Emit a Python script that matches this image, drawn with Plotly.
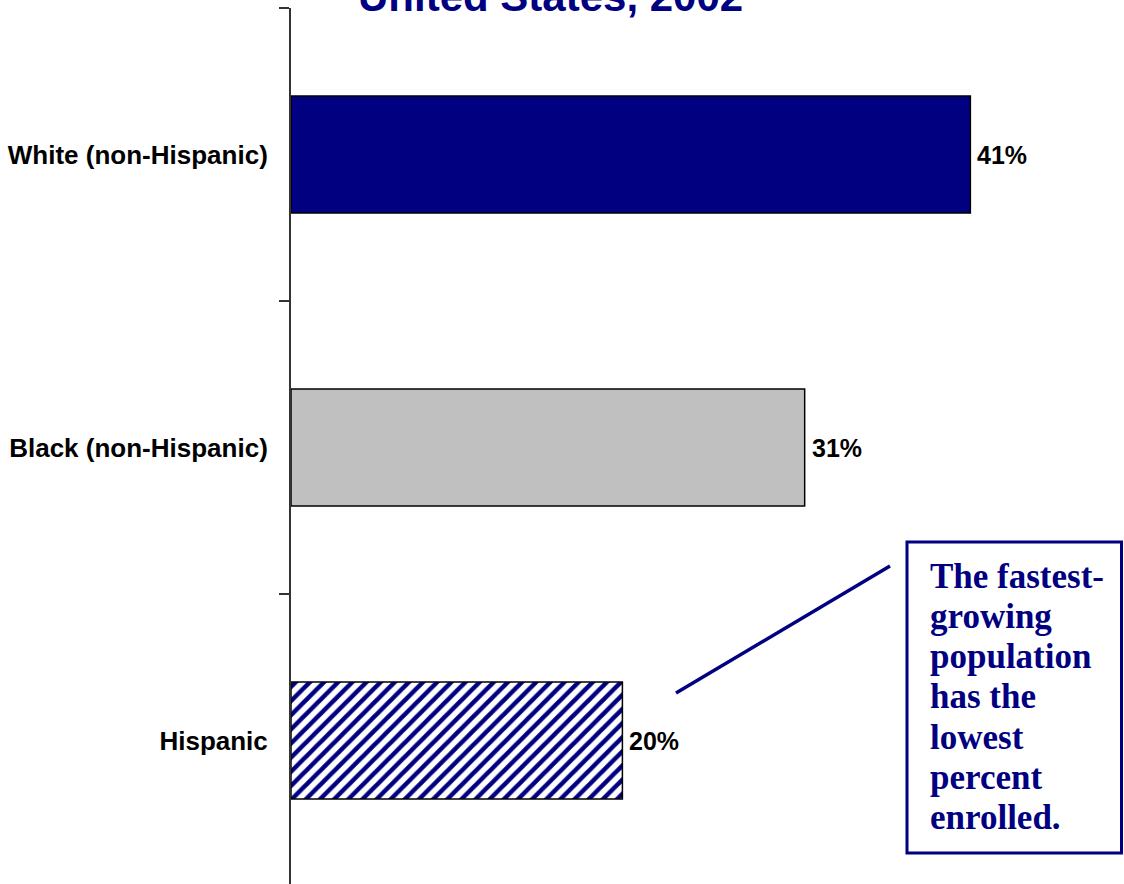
import plotly.graph_objects as go

# ---- data ----
categories = ["White (non-Hispanic)", "Black (non-Hispanic)", "Hispanic"]
values = [41, 31, 20]
bar_colors = ["#000080", "#C0C0C0", "#000080"]
bar_patterns = ["", "", "/"]
value_labels = ["41%", "31%", "20%"]
title_text = "United States, 2002"
callout_lines = ["The fastest-", "growing", "population", "has the", "lowest", "percent", "enrolled."]

W, H = 1124, 884
ML, MR, MT, MB = 291, 3, 8, 0
PW, PH = W - ML - MR, H - MT - MB
PX_PER_UNIT = 16.57


def px(x):
    return (x - ML) / PW


def py(y):
    return (H - MB - y) / PH


fig = go.Figure()
for c, v, col, pat in zip(categories, values, bar_colors, bar_patterns):
    marker = dict(color=col, line=dict(color="#000000", width=1.5))
    if pat:
        marker["pattern"] = dict(shape=pat, fgcolor=col, bgcolor="#FFFFFF",
                                 fillmode="replace", fgopacity=1, size=10, solidity=0.45)
    fig.add_trace(go.Bar(
        y=[c], x=[v], orientation="h", width=0.4, marker=marker,
        hoverinfo="skip", showlegend=False,
    ))

annotations = []
for c, v, t in zip(categories, values, value_labels):
    annotations.append(dict(
        x=v, y=c, xref="x", yref="y", text="<b>%s</b>" % t, showarrow=False,
        xanchor="left", yanchor="middle", xshift=5,
        font=dict(family="Liberation Sans, Arial", size=25, color="#000000"),
    ))

# title (partly cut at top, as in the reference)
annotations.append(dict(
    x=px(550), y=py(-3), xref="paper", yref="paper", text="<b>%s</b>" % title_text,
    showarrow=False, xanchor="center", yanchor="middle",
    font=dict(family="Liberation Sans, Arial", size=42, color="#000080"),
))

# callout text
for i, line in enumerate(callout_lines):
    base = 587 + i * 40.3
    annotations.append(dict(
        x=px(928), y=py(base - 11), xref="paper", yref="paper", text="<b>%s</b>" % line,
        showarrow=False, xanchor="left", yanchor="middle",
        font=dict(family="Liberation Serif, Times New Roman", size=35, color="#000080"),
    ))

shapes = [
    dict(type="line", xref="paper", yref="paper", x0=px(676), y0=py(693), x1=px(890), y1=py(566),
         line=dict(color="#000080", width=3.5)),
    dict(type="rect", xref="paper", yref="paper", x0=px(907), y0=py(542), x1=px(1121.5), y1=py(853),
         line=dict(color="#000080", width=3), fillcolor="rgba(0,0,0,0)", layer="below"),
]

fig.update_layout(
    width=W, height=H,
    barmode="overlay",
    margin=dict(l=ML, r=MR, t=MT, b=MB, pad=0),
    paper_bgcolor="#FFFFFF", plot_bgcolor="#FFFFFF",
    xaxis=dict(visible=False, range=[0, PW / PX_PER_UNIT], fixedrange=True),
    yaxis=dict(
        type="category",
        categoryorder="array", categoryarray=categories,
        range=[-0.5 + PH / 293.0, -0.5],
        showline=True, linecolor="#333333", linewidth=2,
        ticks="outside", ticklen=10, tickwidth=2, tickcolor="#333333",
        tickson="boundaries",
        showgrid=False, zeroline=False,
        tickfont=dict(family="Liberation Sans, Arial", size=26, color="#000000"),
        tickprefix="<b>", ticksuffix="</b>",
        ticklabelstandoff=16,
        fixedrange=True,
    ),
    annotations=annotations,
    shapes=shapes,
    showlegend=False,
)

fig.write_html(
    "out.html",
    config={"displayModeBar": False},
    post_script="document.body.style.margin='0';document.body.style.overflow='hidden';",
)
